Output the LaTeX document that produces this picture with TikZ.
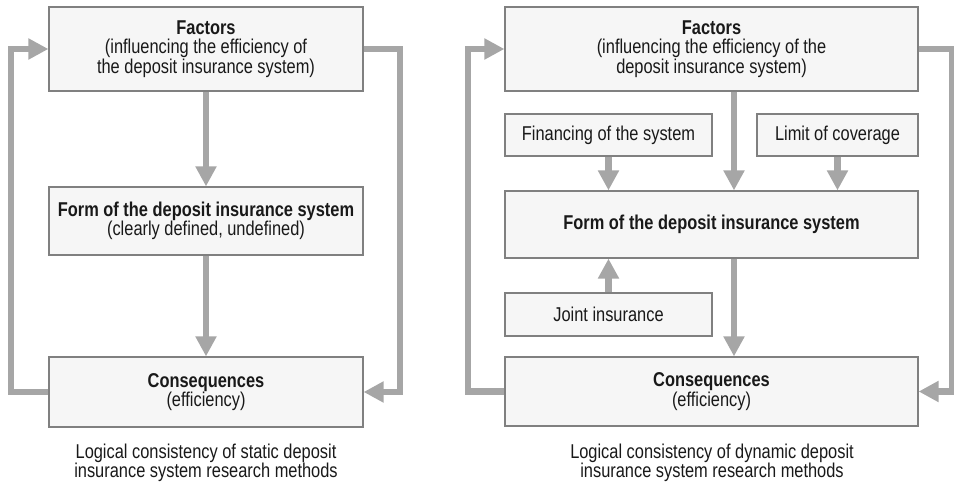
\documentclass[tikz,border=0pt]{standalone}
\usepackage{fontspec}
\setmainfont[FakeStretch=0.82]{Liberation Sans}
\usepackage{xcolor}
\usetikzlibrary{arrows.meta}
\definecolor{flowgray}{HTML}{A6A6A6}
\definecolor{boxline}{HTML}{808080}
\definecolor{boxfill}{HTML}{F6F6F6}
\tikzset{
  box/.style={draw=boxline, line width=0.9pt, fill=boxfill, inner sep=0pt, align=center, text=black!90, font=\fontsize{15}{14.6}\selectfont},
  caption/.style={inner sep=0pt, align=center, text=black!90, font=\fontsize{15}{14.6}\selectfont},
  flow/.style={draw=flowgray, line width=5pt, -{Triangle[length=15pt,width=15pt]}},
}

\begin{document}
\begin{tikzpicture}[x=0.75pt,y=0.75pt,yscale=-1]
        \useasboundingbox (0,0) rectangle (954,485);

        %Left panel: static
        % Text Node
        \node [box, minimum width=235.5pt, minimum height=63pt] (lfac) at (206,49) {\textbf{Factors}\\(influencing the efficiency of\\the deposit insurance system)};
        % Text Node
        \node [box, minimum width=235.5pt, minimum height=51pt] (lform) at (206,221) {\textbf{Form of the deposit insurance system}\\(clearly defined, undefined)};
        % Text Node
        \node [box, minimum width=235.5pt, minimum height=52.5pt] (lcons) at (206,392) {\textbf{Consequences}\\(efficiency)};
        % Text Node
        \node [caption] (lcap) at (206,463) {Logical consistency of static deposit\\insurance system research methods};

        \coordinate (lleft) at (11,0);
        \coordinate (lright) at (400,0);

        %Straight Lines
        \draw [flow] (lfac) -- (lform);
        \draw [flow] (lform) -- (lcons);
        \draw [flow] (lcons.west) -- (lcons.west -| lleft) -- (lfac.west -| lleft) -- (lfac.west);
        \draw [flow] (lfac.east) -- (lfac.east -| lright) -- (lcons.east -| lright) -- (lcons.east);

        %Right panel: dynamic
        % Text Node
        \node [box, minimum width=309.75pt, minimum height=63pt] (rfac) at (711.5,49) {\textbf{Factors}\\(influencing the efficiency of the\\deposit insurance system)};
        % Text Node
        \node [box, minimum width=155.25pt, minimum height=31.5pt] (rfin) at (608.5,135) {Financing of the system};
        % Text Node
        \node [box, minimum width=120.75pt, minimum height=31.5pt] (rlim) at (837.5,135) {Limit of coverage};
        % Text Node
        \node [box, minimum width=309.75pt, minimum height=50.25pt] (rform) at (711.5,224.5) {\textbf{Form of the deposit insurance system}};
        % Text Node
        \node [box, minimum width=155.25pt, minimum height=32.25pt] (rjoint) at (608.5,314.5) {Joint insurance};
        % Text Node
        \node [box, minimum width=309.75pt, minimum height=51.75pt] (rcons) at (711.5,391.5) {\textbf{Consequences}\\(efficiency)};
        % Text Node
        \node [caption] (rcap) at (712,463) {Logical consistency of dynamic deposit\\insurance system research methods};

        \coordinate (rmid) at (734,0);
        \coordinate (rleft) at (468,0);
        \coordinate (rright) at (952,0);

        %Straight Lines
        \draw [flow] (rfac.south -| rmid) -- (rform.north -| rmid);
        \draw [flow] (rfin) -- (rform.north -| rfin);
        \draw [flow] (rlim) -- (rform.north -| rlim);
        \draw [flow] (rjoint) -- (rform.south -| rjoint);
        \draw [flow] (rform.south -| rmid) -- (rcons.north -| rmid);
        \draw [flow] (rcons.west) -- (rcons.west -| rleft) -- (rfac.west -| rleft) -- (rfac.west);
        \draw [flow] (rfac.east) -- (rfac.east -| rright) -- (rcons.east -| rright) -- (rcons.east);

\end{tikzpicture}
\end{document}
